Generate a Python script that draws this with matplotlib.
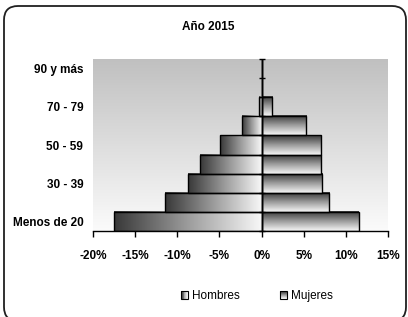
import numpy as np
import matplotlib
matplotlib.use('Agg')
import matplotlib.pyplot as plt
from matplotlib.colors import LinearSegmentedColormap
from matplotlib.patches import FancyBboxPatch, Rectangle
from matplotlib.transforms import IdentityTransform
from matplotlib.ticker import FuncFormatter
from matplotlib.legend_handler import HandlerBase

plt.rcParams['font.family'] = ['Liberation Sans', 'DejaVu Sans']

# Datos (% de población por grupo de edad)
grupos = ['Menos de 20', '20 - 29', '30 - 39', '40 - 49', '50 - 59',
          '60 - 69', '70 - 79', '80 - 89', '90 y más']
hombres = [-17.5, -11.4, -8.7, -7.3, -4.9, -2.3, -0.3, 0.0, 0.0]
mujeres = [11.5, 8.0, 7.2, 7.1, 7.1, 5.3, 1.2, 0.0, 0.0]
xticks = [-20, -15, -10, -5, 0, 5, 10, 15]

fig = plt.figure(figsize=(4.08, 3.17), dpi=100)
ax = fig.add_axes([93/408, 1 - 231/317, 295/408, 172/317])

grad = LinearSegmentedColormap.from_list('grad', ['#383838', '#9c9c9c', '#f8f8f8'])
fondo = LinearSegmentedColormap.from_list('fondo', ['#c0c0c0', '#fbfbfb'])

# fondo degradado del área de trazado
ax.imshow(np.linspace(0, 1, 256).reshape(-1, 1), cmap=fondo, aspect='auto',
          extent=[0, 1, 0, 1], transform=ax.transAxes, origin='upper', zorder=0)

y = np.arange(len(grupos))
for i, (h, m) in enumerate(zip(hombres, mujeres)):
    if h != 0:
        ax.imshow(np.linspace(0, 1, 256).reshape(1, -1), cmap=grad, aspect='auto',
                  extent=[h, 0, i - 0.5, i + 0.5], zorder=2)
    if m != 0:
        ax.imshow(np.linspace(0, 1, 256).reshape(-1, 1), cmap=grad, aspect='auto',
                  extent=[0, m, i - 0.5, i + 0.5], origin='upper', zorder=2)

ax.barh(y, hombres, height=1, facecolor='none', edgecolor='black', lw=1, zorder=3)
ax.barh(y, mujeres, height=1, facecolor='none', edgecolor='black', lw=1, zorder=3)

ax.axvline(0, color='black', lw=1, zorder=4)
ax.plot(np.zeros(len(grupos) + 1), np.arange(len(grupos) + 1) - 0.5, ls='none',
        marker='_', ms=4, mew=1, color='black', zorder=4, clip_on=False)

ax.set_xlim(-20, 15)
ax.set_ylim(-0.5, len(grupos) - 0.5)
ax.set_xticks(xticks)
ax.xaxis.set_major_formatter(FuncFormatter(lambda v, p: '%d%%' % v))
ax.set_yticks(y[::2])
ax.set_yticklabels(grupos[::2])
ax.tick_params(axis='x', direction='out', length=4, width=1, pad=10, labelsize=8.5)
ax.tick_params(axis='y', length=0, pad=7, labelsize=8.5)
for lab in ax.get_xticklabels() + ax.get_yticklabels():
    lab.set_fontweight('bold')
for s in ['left', 'right', 'top']:
    ax.spines[s].set_visible(False)
ax.spines['bottom'].set_linewidth(1)
ax.spines['bottom'].set_zorder(5)

fig.text(208/408, 1 - 27/317, 'Año 2015', ha='center', va='center',
         fontsize=8.5, fontweight='bold')


# cuadrito de leyenda con degradado (franjas)
class HandlerGrad(HandlerBase):
    def __init__(self, vertical):
        super().__init__()
        self.vertical = vertical

    def create_artists(self, legend, orig_handle, xdescent, ydescent, width, height, fontsize, trans):
        n = 8
        arts = []
        for k in range(n):
            c = grad(k / (n - 1))
            if self.vertical:
                r = Rectangle((-xdescent, -ydescent + height * (n - 1 - k) / n), width, height / n,
                              facecolor=c, edgecolor='none', transform=trans)
            else:
                r = Rectangle((-xdescent + width * k / n, -ydescent), width / n, height,
                              facecolor=c, edgecolor='none', transform=trans)
            arts.append(r)
        arts.append(Rectangle((-xdescent, -ydescent), width, height, facecolor='none',
                              edgecolor='black', lw=0.8, transform=trans))
        return arts


h_hom = Rectangle((0, 0), 1, 1)
h_muj = Rectangle((0, 0), 1, 1)
fig.legend([h_hom, h_muj], ['Hombres', 'Mujeres'], loc='center', bbox_to_anchor=(257/408, 1 - 296/317),
           ncol=2, frameon=False, fontsize=8.5, handlelength=0.6, handleheight=0.6,
           handletextpad=0.35, columnspacing=3.4,
           handler_map={h_hom: HandlerGrad(False), h_muj: HandlerGrad(True)})

# marco redondeado
fig.patches.append(FancyBboxPatch((4, -4), 402, 315, boxstyle='round,pad=0,rounding_size=14',
                                  transform=IdentityTransform(), facecolor='none',
                                  edgecolor='#202020', lw=1.3))

fig.savefig('out.png', dpi=100)
